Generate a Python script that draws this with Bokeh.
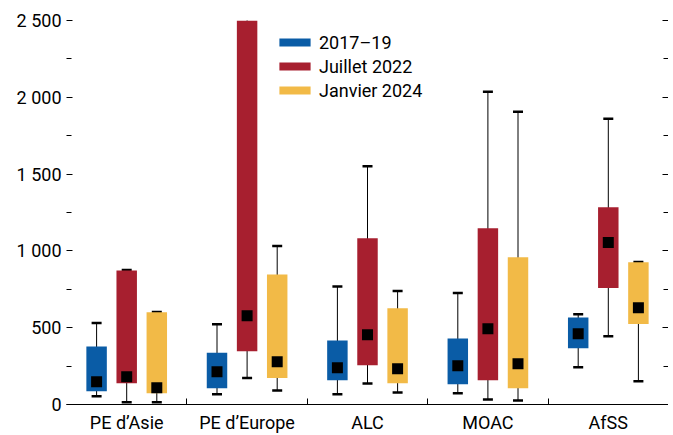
from bokeh.plotting import figure
from bokeh.models import ColumnDataSource, FixedTicker, LinearAxis, Range1d, Legend, LegendItem
from bokeh.embed import file_html
from bokeh.resources import INLINE

categories = ["PE d’Asie", "PE d’Europe", "ALC", "MOAC", "AfSS"]

series_names = ["2017–19", "Juillet 2022", "Janvier 2024"]
colors = ["#0A5CA6", "#A71F2F", "#F2BA47"]

# whisker low, box q1, box q3, whisker high, central marker
low_2017 = [54, 67, 67, 74, 243]
q1_2017 = [87, 106, 158, 132, 367]
q3_2017 = [378, 337, 417, 430, 567]
high_2017 = [530, 522, 769, 726, 587]
mid_2017 = [148, 213, 239, 252, 461]

low_2022 = [15, 172, 137, 33, 445]
q1_2022 = [139, 347, 256, 158, 758]
q3_2022 = [873, 2600, 1082, 1147, 1284]
high_2022 = [876, 3100, 1551, 2036, 1860]
mid_2022 = [180, 578, 454, 493, 1054]

low_2024 = [15, 91, 78, 26, 152]
q1_2024 = [74, 172, 139, 106, 524]
q3_2024 = [600, 847, 626, 958, 926]
high_2024 = [602, 1032, 739, 1906, 928]
mid_2024 = [109, 278, 233, 265, 630]

y_ticks = [0, 500, 1000, 1500, 2000, 2500]
y_minor = [250, 750, 1250, 1750, 2250]
y_labels = ["0", "500", "1 000", "1 500", "2 000", "2 500"]

FONT = "Roboto"

data = [
    (low_2017, q1_2017, q3_2017, high_2017, mid_2017),
    (low_2022, q1_2022, q3_2022, high_2022, mid_2022),
    (low_2024, q1_2024, q3_2024, high_2024, mid_2024),
]
offsets = [-0.25, 0.0, 0.25]
n = len(categories)
centers = [i + 0.5 for i in range(n)]

p = figure(width=668, height=435, output_backend="svg", toolbar_location=None,
           x_range=Range1d(0, n), y_range=Range1d(0, 2500),
           min_border_left=66, min_border_right=0, min_border_top=20, min_border_bottom=0)
p.outline_line_color = None
p.grid.visible = False
p.background_fill_color = "white"

legend_items = []
for (lo, q1, q3, hi, mid), off, col, name in zip(data, offsets, colors, series_names):
    src = ColumnDataSource(dict(x=[c + off for c in centers], lo=lo, q1=q1, q3=q3, hi=hi, mid=mid))
    p.segment(x0="x", y0="lo", x1="x", y1="hi", source=src, line_color="black", line_width=1)
    p.scatter(x="x", y="lo", source=src, marker="dash", size=10, line_width=2.5, line_color="black")
    p.scatter(x="x", y="hi", source=src, marker="dash", size=10, line_width=2.5, line_color="black")
    r = p.vbar(x="x", bottom="q1", top="q3", width=0.17, source=src, fill_color=col, line_color=None)
    p.scatter(x="x", y="mid", source=src, marker="square", size=11, fill_color="black", line_color=None)
    legend_items.append(LegendItem(label=name, renderers=[r]))

# x axis: labels at category centres, ticks at boundaries
xa = p.xaxis[0]
xa.ticker = FixedTicker(ticks=centers, minor_ticks=[1, 2, 3, 4])
xa.major_label_overrides = {c: lab for c, lab in zip(centers, categories)}
xa.major_tick_in = 0
xa.major_tick_out = 0
xa.minor_tick_in = 6
xa.minor_tick_out = 0
xa.minor_tick_line_color = "black"
xa.axis_line_color = "black"
xa.axis_line_width = 1.2
xa.major_label_standoff = 7
xa.major_label_text_font = FONT
xa.major_label_text_font_size = "18px"
xa.major_label_text_color = "black"

ya = p.yaxis[0]
ya.ticker = FixedTicker(ticks=y_ticks, minor_ticks=y_minor)
ya.major_label_overrides = {t: lab for t, lab in zip(y_ticks, y_labels)}
ya.axis_line_color = None
ya.major_tick_in = 6
ya.major_tick_out = 0
ya.minor_tick_in = 5
ya.minor_tick_out = 0
ya.major_tick_line_color = "black"
ya.minor_tick_line_color = "black"
ya.major_label_standoff = 5
ya.major_label_text_font = FONT
ya.major_label_text_font_size = "18px"
ya.major_label_text_color = "black"

ra = LinearAxis(ticker=FixedTicker(ticks=y_ticks, minor_ticks=y_minor))
ra.major_label_overrides = {t: "" for t in y_ticks}
ra.axis_line_color = None
ra.major_tick_in = 6
ra.major_tick_out = 0
ra.minor_tick_in = 5
ra.minor_tick_out = 0
ra.major_tick_line_color = "black"
ra.minor_tick_line_color = "black"
ra.major_label_standoff = 0
ra.major_label_text_font_size = "1px"
p.add_layout(ra, "right")

legend = Legend(items=legend_items, location=(209, 303))
legend.glyph_width = 39
legend.glyph_height = 10
legend.label_height = 22
legend.spacing = 2
legend.padding = 0
legend.margin = 0
legend.label_standoff = 5
legend.label_text_font = FONT
legend.label_text_font_size = "18px"
legend.label_text_color = "black"
legend.border_line_color = None
legend.background_fill_alpha = 0
p.add_layout(legend, "center")

open("out.html", "w").write(file_html(p, INLINE))
